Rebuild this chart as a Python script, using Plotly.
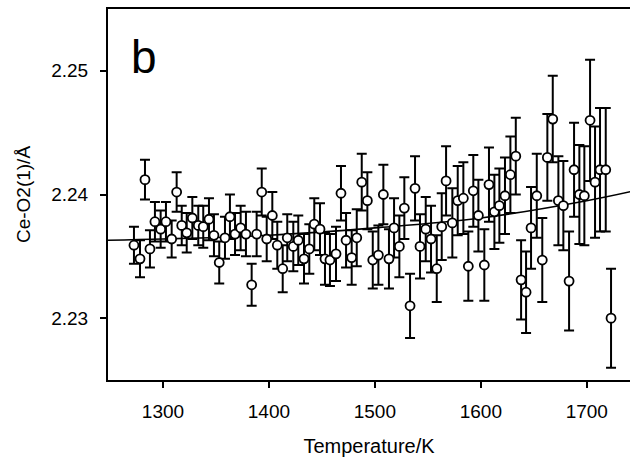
import plotly.graph_objects as go

# Measured data (Temperature / K, Ce-O2(1) distance / Å, error / Å)
temperature = [
    1272.6, 1278.3, 1283.0, 1287.7, 1292.4, 1297.8, 1302.8, 1308.2, 1312.9, 1317.7,
    1322.4, 1327.7, 1333.3, 1338.0, 1343.4, 1348.1, 1353.1, 1358.5, 1363.2, 1368.0,
    1373.3, 1378.3, 1383.7, 1388.4, 1393.2, 1397.9, 1403.2, 1407.9, 1413.0, 1417.3,
    1423.0, 1427.7, 1433.1, 1438.1, 1442.8, 1448.2, 1452.9, 1457.6, 1463.3, 1468.0,
    1472.8, 1478.1, 1482.9, 1487.6, 1492.9, 1498.0, 1503.3, 1508.0, 1513.3, 1518.1,
    1523.1, 1527.8, 1533.2, 1537.9, 1542.6, 1548.0, 1553.0, 1558.4, 1563.1, 1567.2,
    1573.1, 1578.2, 1583.5, 1588.2, 1592.9, 1597.7, 1603.3, 1607.7, 1612.8, 1617.5,
    1622.8, 1627.9, 1633.0, 1638.0, 1642.7, 1647.4, 1652.8, 1658.0, 1662.8, 1667.9,
    1673.2, 1677.9, 1683.3, 1688.0, 1693.0, 1697.7, 1703.1, 1707.8, 1712.5, 1717.9,
    1722.9,
]
distance = [
    2.2359, 2.2348, 2.2412, 2.2356, 2.2378, 2.2372, 2.2378, 2.2364, 2.2402, 2.2375,
    2.2369, 2.2381, 2.2375, 2.2374, 2.2380, 2.2367, 2.2345, 2.2365, 2.2382, 2.2368,
    2.2373, 2.2368, 2.2327, 2.2368, 2.2402, 2.2364, 2.2383, 2.2359, 2.2340, 2.2365,
    2.2358, 2.2363, 2.2348, 2.2356, 2.2376, 2.2372, 2.2348, 2.2347, 2.2352, 2.2401,
    2.2363, 2.2349, 2.2365, 2.2410, 2.2395, 2.2347, 2.2351, 2.2400, 2.2348, 2.2373,
    2.2358, 2.2389, 2.2310, 2.2405, 2.2358, 2.2372, 2.2364, 2.2340, 2.2374, 2.2411,
    2.2377, 2.2395, 2.2397, 2.2342, 2.2403, 2.2383, 2.2343, 2.2408, 2.2386, 2.2391,
    2.2399, 2.2416, 2.2431, 2.2331, 2.2321, 2.2373, 2.2399, 2.2347, 2.2430, 2.2461,
    2.2395, 2.2391, 2.2330, 2.2420, 2.2400, 2.2399, 2.2460, 2.2410, 2.2420, 2.2420,
    2.2300,
]
error = [
    0.0015, 0.0015, 0.0016, 0.0015, 0.0016, 0.0015, 0.0016, 0.0015, 0.0016, 0.0016,
    0.0016, 0.0017, 0.0016, 0.0017, 0.0017, 0.0017, 0.0017, 0.0017, 0.0018, 0.0017,
    0.0018, 0.0018, 0.0017, 0.0018, 0.0019, 0.0018, 0.0019, 0.0019, 0.0019, 0.0019,
    0.0020, 0.0020, 0.0020, 0.0020, 0.0021, 0.0021, 0.0021, 0.0021, 0.0022, 0.0022,
    0.0022, 0.0022, 0.0023, 0.0023, 0.0023, 0.0023, 0.0024, 0.0024, 0.0024, 0.0024,
    0.0025, 0.0025, 0.0026, 0.0026, 0.0026, 0.0026, 0.0027, 0.0027, 0.0027, 0.0028,
    0.0028, 0.0028, 0.0029, 0.0028, 0.0029, 0.0029, 0.0029, 0.0030, 0.0030, 0.0030,
    0.0031, 0.0031, 0.0031, 0.0032, 0.0033, 0.0033, 0.0034, 0.0034, 0.0035, 0.0035,
    0.0036, 0.0036, 0.0040, 0.0038, 0.0040, 0.0040, 0.0049, 0.0045, 0.0050, 0.0050,
    0.0040,
]

# Fitted curve
fit_temperature = [1248, 1300, 1400, 1500, 1600, 1700, 1745]
fit_distance = [2.2363, 2.2364, 2.2367, 2.2373, 2.2381, 2.2395, 2.2403]

x_ticks = [1300, 1400, 1500, 1600, 1700]
y_ticks = [2.23, 2.24, 2.25]

FONT = "Liberation Sans, Arial, sans-serif"

fig = go.Figure()
fig.add_trace(go.Scatter(
    x=fit_temperature, y=fit_distance, mode="lines",
    line=dict(color="black", width=1.6, shape="spline"),
    hoverinfo="skip", showlegend=False,
))
fig.add_trace(go.Scatter(
    x=temperature, y=distance, mode="markers",
    marker=dict(symbol="circle", size=9, color="white",
                line=dict(color="black", width=1.8)),
    error_y=dict(type="data", array=error, visible=True,
                 color="black", thickness=2, width=5),
    showlegend=False,
))

fig.add_annotation(
    x=1268, y=2.2511, xref="x", yref="y", text="b", showarrow=False,
    xanchor="left", yanchor="middle",
    font=dict(family=FONT, size=46, color="black"),
)

fig.update_layout(
    width=630, height=463,
    margin=dict(l=108, r=0, t=9, b=83),
    paper_bgcolor="white", plot_bgcolor="white",
    font=dict(family=FONT, color="black"),
    showlegend=False,
)
fig.update_xaxes(
    range=[1248.1, 1740.8], tickvals=x_ticks, ticktext=[str(v) for v in x_ticks],
    showgrid=False, zeroline=False,
    showline=True, linecolor="black", linewidth=2, mirror=True,
    ticks="outside", ticklen=6, tickwidth=1.5, tickcolor="black",
    tickfont=dict(family=FONT, size=19), ticklabelstandoff=7,
    title=dict(text="Temperature/K", font=dict(family=FONT, size=20), standoff=18),
)
fig.update_yaxes(
    range=[2.225, 2.255], tickvals=y_ticks, ticktext=["2.23", "2.24", "2.25"],
    showgrid=False, zeroline=False,
    showline=True, linecolor="black", linewidth=2,
    ticks="outside", ticklen=6, tickwidth=1.5, tickcolor="black",
    tickfont=dict(family=FONT, size=19), ticklabelstandoff=8,
    title=dict(text="Ce-O2(1)/Å", font=dict(family=FONT, size=19), standoff=16),
)

fig.write_html("out.html")
